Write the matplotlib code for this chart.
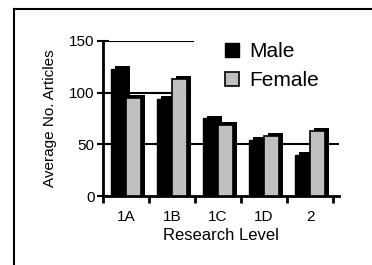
import matplotlib
matplotlib.use("Agg")
import matplotlib.pyplot as plt
import numpy as np
from matplotlib.lines import Line2D

plt.rcParams['font.family'] = ['Liberation Sans', 'DejaVu Sans']

levels = ["1A", "1B", "1C", "1D", "2"]
male = [123, 94, 75, 54, 40]
female = [95, 113, 69, 58, 63]
yticks = [0, 50, 100, 150]

fig = plt.figure(figsize=(3.72, 2.65), dpi=100)
ax = fig.add_axes([103/372, 1 - 196/265, 236/372, 155/265])

x = np.arange(len(levels))
w = 0.33
dx = 0.09   # depth of the fake 3d side
dy = 2.9

# gridlines, partly hidden behind the legend like the original
ax.axhline(50, color="black", lw=1.5, zorder=0)
ax.axhline(100, xmax=0.37, color="black", lw=1.5, zorder=0)
ax.axhline(150, xmax=0.38, color="black", lw=1.5, zorder=0)

# male: back (shadow) then front
ax.bar(x - w/2 + dx, np.array(male) + dy, width=w, color="black", zorder=1)
mb = ax.bar(x - w/2, male, width=w, color="black", edgecolor="black", lw=1, zorder=2)
# female in front of male
ax.bar(x + w/2 + dx, np.array(female) + dy, width=w, color="black", zorder=3)
fb = ax.bar(x + w/2, female, width=w, color="#c0c0c0", edgecolor="black", lw=1.2, zorder=4)

ax.set_xlim(-0.5, 4.63)
ax.set_ylim(0, 150)
ax.set_yticks(yticks)

# category boundaries get the tick marks, centres get the labels
ax.set_xticks(np.arange(-0.5, 5, 1))
ax.set_xticklabels([])
ax.set_xticks(x, minor=True)
ax.set_xticklabels(levels, minor=True, fontsize=11)
ax.tick_params(axis="x", which="major", direction="out", length=5, width=2)
ax.tick_params(axis="x", which="minor", length=0, pad=10)
ax.tick_params(axis="y", direction="inout", length=8, width=1.5, labelsize=11, pad=2)

for s in ["top", "right"]:
    ax.spines[s].set_visible(False)
ax.spines["left"].set_linewidth(2)
ax.spines["bottom"].set_linewidth(2)

ax.set_xlabel("Research Level", fontsize=12, labelpad=3)
ax.set_ylabel("Average No. Articles", fontsize=11, labelpad=9)

fig.legend([mb, fb], ["Male", "Female"], loc="upper left",
           bbox_to_anchor=(225/372, 1 - 42/265), frameon=False, fontsize=15,
           handlelength=0.65, handleheight=0.65, handletextpad=0.5,
           labelspacing=0.5, borderpad=0, borderaxespad=0)

# outer frame (left and top edges visible)
fig.add_artist(Line2D([14/372, 14/372], [0, 1 - 9/265], transform=fig.transFigure, color="black", lw=1.5))
fig.add_artist(Line2D([14/372, 1], [1 - 9/265, 1 - 9/265], transform=fig.transFigure, color="black", lw=1.5))

fig.savefig("out.png", dpi=100)
